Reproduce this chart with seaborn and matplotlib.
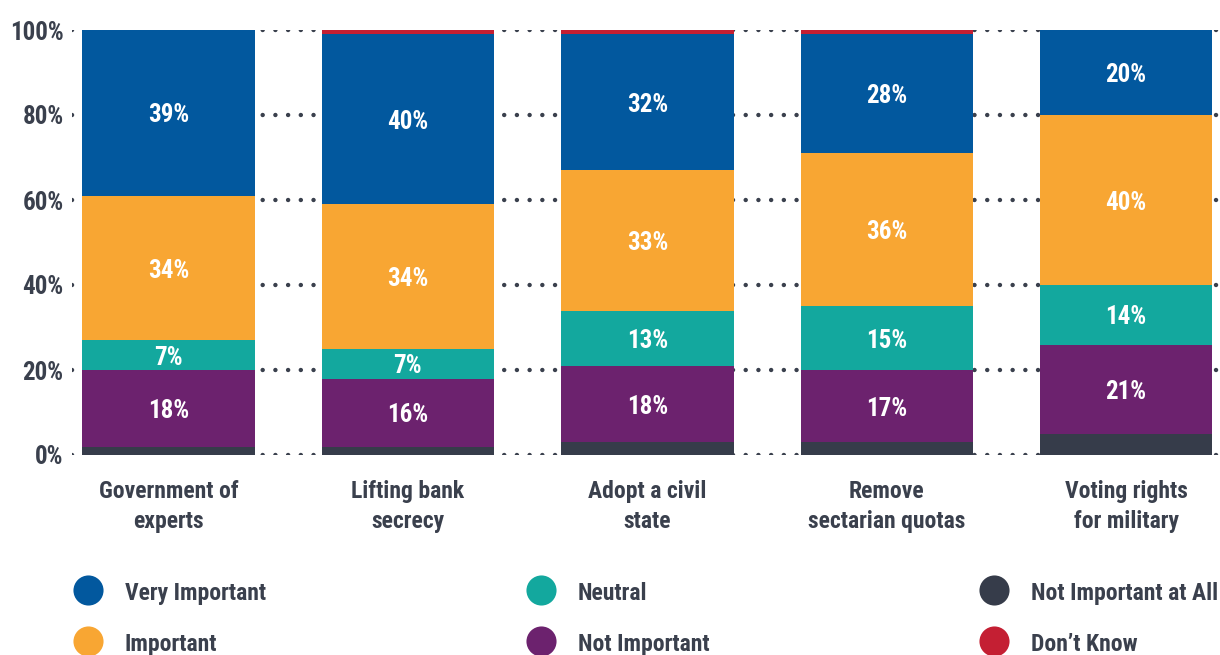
import numpy as np
import pandas as pd
import matplotlib
matplotlib.use("Agg")
import matplotlib.pyplot as plt
import seaborn as sns

# Survey responses, percent of respondents per reform
categories = ["Government of\nexperts", "Lifting bank\nsecrecy", "Adopt a civil\nstate",
              "Remove\nsectarian quotas", "Voting rights\nfor military"]
not_important_at_all = [2, 2, 3, 3, 5]
not_important = [18, 16, 18, 17, 21]
neutral = [7, 7, 13, 15, 14]
important = [34, 34, 33, 36, 40]
very_important = [39, 40, 32, 28, 20]
dont_know = [0, 1, 1, 1, 0]
y_ticks = [0, 20, 40, 60, 80, 100]

series = [
    ("Not Important at All", not_important_at_all, "#363c4a", False),
    ("Not Important", not_important, "#6c226e", True),
    ("Neutral", neutral, "#13a89e", True),
    ("Important", important, "#f8a633", True),
    ("Very Important", very_important, "#02589e", True),
    ("Don\u2019t Know", dont_know, "#c41f33", False),
]

TEXT = "#3a404d"
FONT = ["Roboto Condensed", "DejaVu Sans"]

sns.set_theme(style="white")
plt.rcParams["font.family"] = FONT
plt.rcParams["font.weight"] = "bold"
plt.rcParams["font.stretch"] = "condensed"

fig = plt.figure(figsize=(12.2, 6.55), dpi=100)
ax = fig.add_axes([72 / 1220, 1 - 455 / 655, 1 - 72 / 1220, 425 / 655])

df = pd.DataFrame({"category": categories})
cum = np.zeros(len(categories))
tops = []
for name, vals, color, labelled in series:
    bottom = cum.copy()
    cum = cum + np.array(vals)
    tops.append((name, cum.copy(), bottom, np.array(vals), color, labelled))

# draw cumulative totals from the top layer down so each segment shows
for name, top, bottom, vals, color, labelled in reversed(tops):
    d = df.assign(value=top)
    sns.barplot(data=d, x="category", y="value", color=color, width=0.72,
                saturation=1, ax=ax, zorder=2, linewidth=0)

for name, top, bottom, vals, color, labelled in tops:
    if not labelled:
        continue
    for i, v in enumerate(vals):
        ax.text(i, bottom[i] + v / 2, f"{v}%", ha="center", va="center_baseline",
                color="white", fontsize=18, zorder=4)

ax.set_xlim(-0.403, 4.392)
ax.set_ylim(0, 100)
ax.set_yticks(y_ticks)
ax.set_yticklabels([f"{t}%" for t in y_ticks])
ax.set_xlabel("")
ax.set_ylabel("")
ax.tick_params(axis="y", length=0, pad=6, labelsize=18, labelcolor=TEXT)
ax.tick_params(axis="x", length=0, pad=18, labelsize=17, labelcolor=TEXT)
for lbl in ax.get_xticklabels():
    lbl.set_linespacing(1.4)
for s in ax.spines.values():
    s.set_visible(False)

ax.yaxis.grid(True, color="#3a404d", linewidth=3.2, linestyle=(0, (0.01, 2.85)),
              dash_capstyle="round", zorder=1)
ax.xaxis.grid(False)
ax.set_axisbelow(True)

# legend in three columns of two rows
legend_order = ["Very Important", "Important", "Neutral", "Not Important",
                "Not Important at All", "Don\u2019t Know"]
colors = {name: color for name, _, color, _ in series}
lax = fig.add_axes([0, 0, 1, 1], facecolor="none")
lax.set_xlim(0, 1220)
lax.set_ylim(655, 0)
lax.axis("off")
col_x = [88, 541, 994]
row_y = [590, 641]
for k, name in enumerate(legend_order):
    cx = col_x[k // 2]
    cy = row_y[k % 2]
    lax.scatter([cx], [cy], s=470, color=colors[name], linewidths=0)
    lax.text(cx + 37, cy + 1, name, ha="left", va="center_baseline", fontsize=17,
             color=TEXT)

fig.savefig("out.png", dpi=100)
